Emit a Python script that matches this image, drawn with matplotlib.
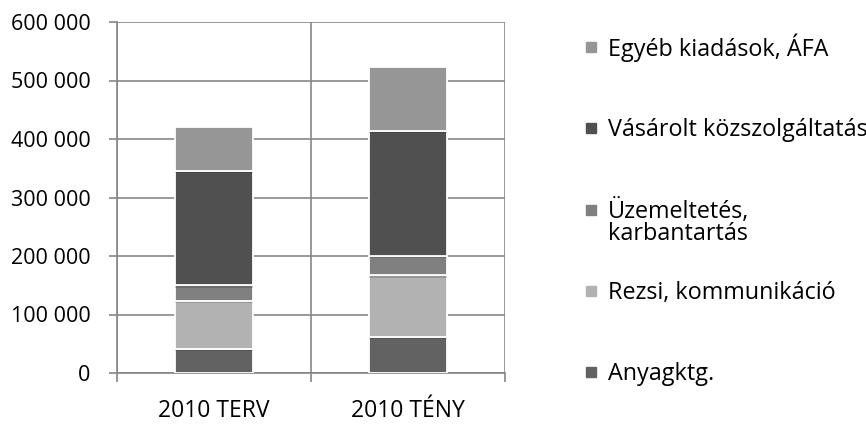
import numpy as np
import matplotlib
matplotlib.use("Agg")
import matplotlib.pyplot as plt
from matplotlib.lines import Line2D
import matplotlib.patheffects as pe

plt.rcParams['font.family'] = ['Open Sans', 'DejaVu Sans']

kategoriak = ['2010 TERV', '2010 TÉNY']
sorozatok = ['Anyagktg.', 'Rezsi, kommunikáció', 'Üzemeltetés,',
             'Vásárolt közszolgáltatás', 'Egyéb kiadások, ÁFA']
uzem_2_sor = 'karbantartás'
anyag = [41700, 61100]
rezsi = [81600, 105600]
uzem = [26300, 33700]
vasarolt = [196300, 212900]
egyeb = [75400, 110200]
y_tickek = [0, 100000, 200000, 300000, 400000, 500000, 600000]

ertekek = [anyag, rezsi, uzem, vasarolt, egyeb]
szinek = ['#626262', '#b2b2b2', '#808080', '#505050', '#969696']
racs = '#868686'
betu = 16.8

fig = plt.figure(figsize=(8.66, 4.25), dpi=100)
ax = fig.add_axes([117/866, 52/425, 388/866, 351/425])

x = np.arange(len(kategoriak))
alja = np.zeros(len(kategoriak))
arnyek = [pe.SimplePatchShadow(offset=(0, -1.5), shadow_rgbFace='k', alpha=0.15), pe.Normal()]
for ertek, szin in zip(ertekek, szinek):
    ax.bar(x, ertek, 0.4, bottom=alja, color=szin, edgecolor='white',
           linewidth=1.3, zorder=3, path_effects=arnyek)
    alja += np.array(ertek)

ax.set_xlim(-0.5, 1.5)
ax.set_ylim(0, 600000)
ax.set_yticks(y_tickek)
ax.set_yticklabels([f'{v:,}'.replace(',', ' ') for v in y_tickek])
ax.set_xticks(x)
ax.set_xticklabels(kategoriak)
ax.set_xticks([-0.5, 0.5, 1.5], minor=True)

ax.grid(axis='y', color=racs, linewidth=1.2, zorder=0)
ax.grid(axis='x', which='minor', color=racs, linewidth=1.2, zorder=0)
for s in ['top', 'right']:
    ax.spines[s].set_visible(False)
for s in ['left', 'bottom']:
    ax.spines[s].set_color(racs)
    ax.spines[s].set_linewidth(1.2)

ax.tick_params(axis='y', length=6, width=1.2, color=racs, pad=13, labelsize=15.5)
ax.tick_params(axis='x', which='major', length=0, pad=19, labelsize=16.5)
ax.tick_params(axis='x', which='minor', length=6.5, width=1.2, color=racs)
ax.set_axisbelow(True)

fogantyuk = [Line2D([], [], marker='s', linestyle='none', markersize=7.5,
                    markerfacecolor=c, markeredgecolor=c) for c in szinek]
leg = fig.legend(fogantyuk[::-1], sorozatok[::-1], loc='upper left',
                 bbox_to_anchor=(582/866, 1 - 33/425), frameon=False, fontsize=betu,
                 handlelength=0.8, handletextpad=0.3, labelspacing=2.44,
                 borderaxespad=0, borderpad=0)

# a kétsoros felirat második sora az "Üzemeltetés," alá
fig.canvas.draw()
bb = leg.get_texts()[2].get_window_extent()
fig.text(bb.x0 / 866, (bb.y0 - 22) / 425, uzem_2_sor, fontsize=betu,
         ha='left', va='bottom')

fig.savefig('out.png', dpi=100)
